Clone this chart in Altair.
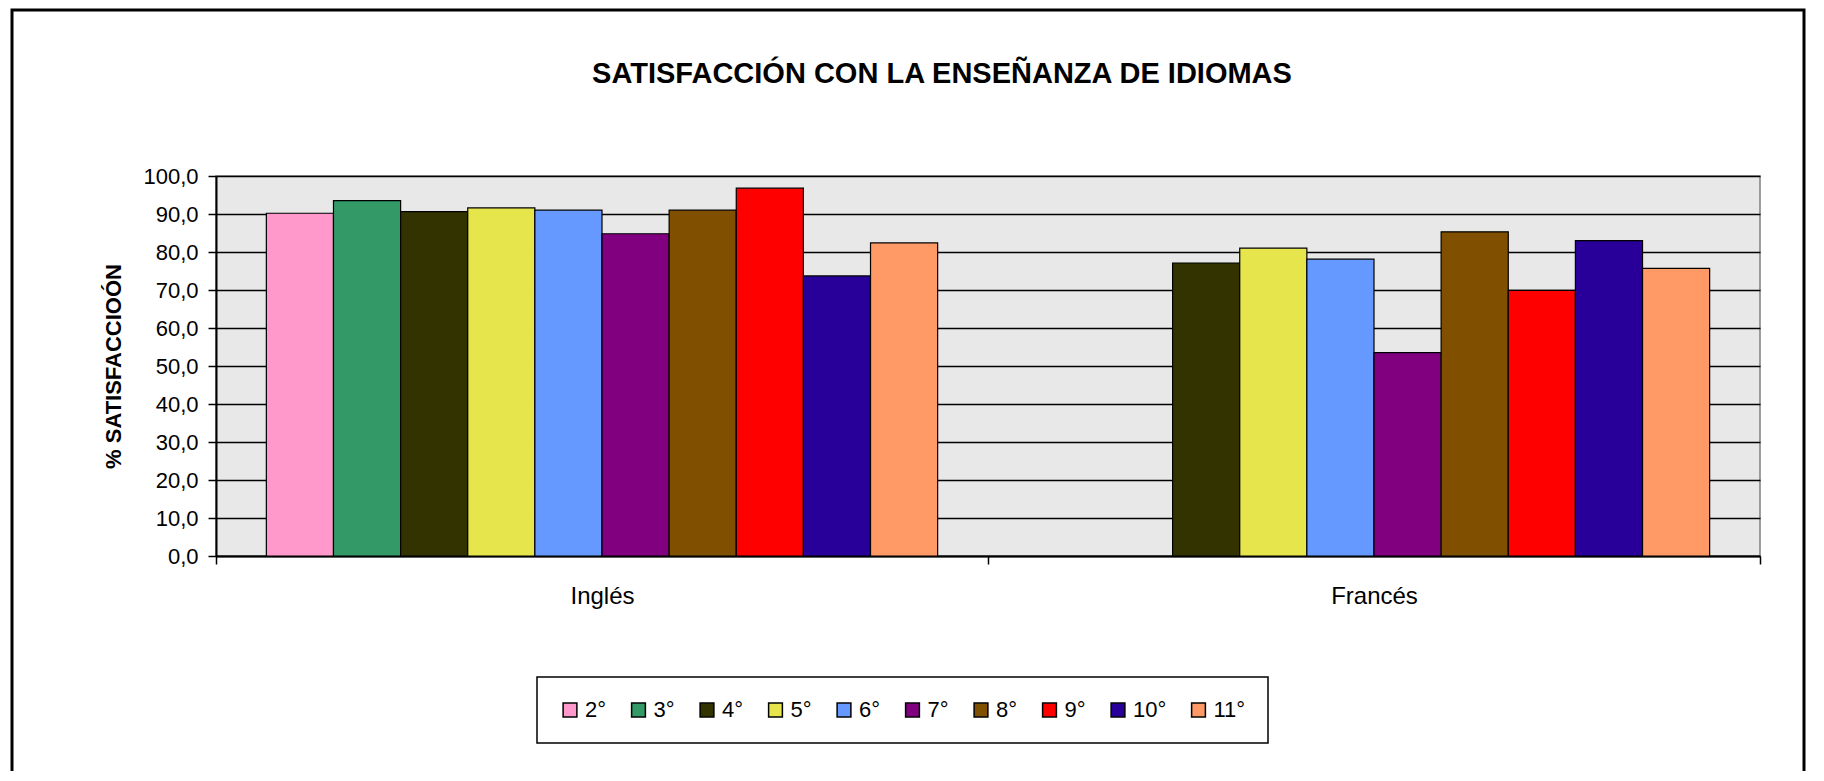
import altair as alt
import pandas as pd

# ---- data ----
idiomas = ["Inglés", "Francés"]
grados = ["2°", "3°", "4°", "5°", "6°", "7°", "8°", "9°", "10°", "11°"]
ingles = [90.2, 93.5, 90.6, 91.6, 91.0, 84.8, 91.0, 96.8, 73.7, 82.4]
frances = [None, None, 77.1, 81.0, 78.1, 53.5, 85.3, 69.9, 83.0, 75.7]
colores = ["#FF99CC", "#339966", "#333300", "#E6E64C", "#6699FF",
           "#800080", "#805000", "#FF0000", "#280099", "#FF9966"]
y_ticks = [0, 10, 20, 30, 40, 50, 60, 70, 80, 90, 100]
titulo = "SATISFACCIÓN CON LA ENSEÑANZA DE IDIOMAS"

rows = []
for idioma, serie in zip(idiomas, [ingles, frances]):
    for g, v in zip(grados, serie):
        if v is not None:
            rows.append({"idioma": idioma, "grado": g, "valor": v})
df = pd.DataFrame(rows)

FONT = "Liberation Sans"

bars = alt.Chart(df).mark_bar(stroke="black", strokeWidth=1.2).encode(
    x=alt.X("idioma:N", sort=idiomas,
            scale=alt.Scale(paddingInner=0, paddingOuter=0),
            axis=alt.Axis(title=None, labelAngle=0, labelFontSize=24, labelFont=FONT,
                          labelColor="black", labelPadding=20, tickBand="extent",
                          tickSize=8, tickColor="black", tickWidth=1.5,
                          domainColor="black", domainWidth=2, grid=False)),
    xOffset=alt.XOffset("grado:N", sort=grados,
                        scale=alt.Scale(domain=grados, paddingInner=0, paddingOuter=0.75)),
    y=alt.Y("valor:Q", scale=alt.Scale(domain=[0, 100], nice=False),
            axis=alt.Axis(values=y_ticks,
                          labelExpr="replace(format(datum.value, '.1f'), '.', ',')",
                          labelFontSize=22, labelFont=FONT, labelColor="black",
                          labelPadding=10, tickSize=8, tickColor="black", tickWidth=1.5,
                          domainColor="black", domainWidth=2,
                          grid=True, gridColor="black", gridWidth=1.5,
                          title="% SATISFACCIOÓN", titleFont=FONT, titleFontSize=22,
                          titleFontWeight="bold", titleColor="black",
                          titleX=-103, titleY=190, titleAngle=270,
                          titleAlign="center", titleBaseline="middle")),
    color=alt.Color("grado:N", sort=grados,
                    scale=alt.Scale(domain=grados, range=colores),
                    legend=alt.Legend(title=None, orient="none", legendX=321, legendY=501,
                                      direction="horizontal", columns=10, gridAlign="none",
                                      symbolType="square", symbolSize=190,
                                      symbolStrokeColor="black", symbolStrokeWidth=1.5,
                                      symbolOpacity=1,
                                      labelFontSize=22, labelFont=FONT, labelColor="black",
                                      labelOffset=4, columnPadding=20.5, padding=22,
                                      strokeColor="black", fillColor="white")),
)

title_mark = alt.Chart(pd.DataFrame({"t": [titulo]})).mark_text(
    font=FONT, fontSize=29, fontWeight="bold", color="black",
    align="center", baseline="middle"
).encode(text="t:N", x=alt.value(726), y=alt.value(-102))

frame = alt.Chart(pd.DataFrame({"k": [0]})).mark_rect(
    filled=False, stroke="black", strokeWidth=3
).encode(
    x=alt.value(-204), x2=alt.value(1588), y=alt.value(-166), y2=alt.value(620)
)

chart = alt.layer(bars, title_mark, frame).properties(
    width=1544, height=380,
    autosize=alt.AutoSizeParams(type="none"),
    padding={"left": 208, "top": 168, "right": 48, "bottom": 215},
    background="white",
).configure_view(
    fill="#E8E8E8", stroke="#808080", strokeWidth=1.5
).configure_legend(
    strokeWidth=1.5
)

chart.save("out.html", embed_options={"renderer": "svg", "actions": False})
